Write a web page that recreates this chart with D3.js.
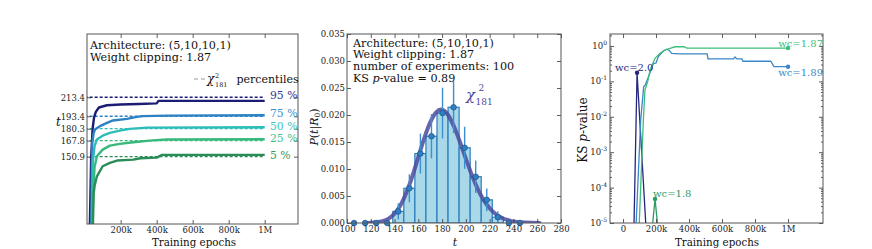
<!DOCTYPE html>
<html>
<head>
<meta charset="utf-8">
<script src="https://cdn.jsdelivr.net/npm/d3@7"></script>
<style>
  body { margin: 0; background: #fff; }
  svg { display: block; font-family: "DejaVu Serif", serif; }
</style>
</head>
<body>
<div id="chart"></div>
<script>
// ---- left panel: percentiles of t vs training epochs ----
const pctLabels = ['95 %', '75 %', '50 %', '25 %', '5 %'];
const pctValues = [213.4, 193.4, 180.3, 167.8, 150.9];
const leftTicksX = [200000, 400000, 600000, 800000, 1000000];

const ep95 = [22e3, 29e3, 36e3, 44e3, 52e3, 62e3, 79e3, 124e3, 200e3, 300e3, 400e3, 410e3, 1e6];
const t95  = [40, 80, 150, 180, 192, 198, 202.6, 205, 205.8, 206.3, 207, 209.6, 209.6];
const ep75 = [30e3, 37e3, 42e3, 50e3, 60e3, 85e3, 124e3, 157e3, 235e3, 290e3, 324e3, 457e3, 1e6];
const t75  = [60, 80, 165, 176, 180, 183, 186.4, 189, 190.7, 192.8, 193.6, 194.1, 194.4];
const ep50 = [32e3, 40e3, 45e3, 55e3, 68e3, 100e3, 140e3, 195e3, 250e3, 345e3, 1e6];
const t50  = [60, 80, 145, 162, 169, 173, 176, 178.3, 180.1, 181.5, 181.8];
const ep25 = [35e3, 43e3, 48e3, 55e3, 68e3, 100e3, 140e3, 195e3, 270e3, 360e3, 455e3, 1e6];
const t25  = [60, 80, 116, 140, 151.3, 158.3, 162.5, 164.3, 166, 167.8, 168.9, 169.2];
const ep05 = [38e3, 46e3, 50e3, 55e3, 68e3, 100e3, 140e3, 180e3, 270e3, 310e3, 400e3, 430e3, 1e6];
const t05  = [60, 80, 112, 120, 130.2, 140.8, 144.3, 146.8, 147.8, 149.2, 149.9, 152.8, 152.8];

// ---- middle panel: histogram of t ----
const binEdges = [101.3, 110.6, 119.9, 129.2, 138.5, 147.8, 157.1, 166.4, 175.7, 185.0,
                  194.3, 203.6, 212.9, 222.2, 231.5, 240.8, 250.1];
const density  = [0, 0, 0, 0, 0.00214, 0.00643, 0.01286, 0.01607, 0.02036, 0.02143,
                  0.01393, 0.00857, 0.00429, 0.00107, 0, 0];
const densErr  = [0, 0, 0, 0, 0.0015, 0.0026, 0.0037, 0.0041, 0.0047, 0.0048,
                  0.0039, 0.0030, 0.0021, 0.0011, 0, 0];
const chiT   = [118, 125, 130, 135, 140, 145, 150, 155, 160, 165, 170, 175, 179, 185, 190,
                195, 200, 205, 210, 215, 220, 225, 230, 235, 240, 250, 262];
const chiPdf = [0.00002, 0.00012, 0.00034, 0.00082, 0.00174, 0.0033, 0.00563, 0.00868, 0.01222,
                0.01573, 0.01865, 0.0205, 0.0210, 0.0200, 0.01786, 0.0150, 0.01187, 0.00887,
                0.00629, 0.00424, 0.00273, 0.00167, 0.00098, 0.00055, 0.0003, 0.00008, 0.00001];
const midTicksX = [100, 120, 140, 160, 180, 200, 220, 240, 260, 280];
const midTicksY = [0, 0.005, 0.010, 0.015, 0.020, 0.025, 0.030, 0.035];

// ---- right panel: KS p-value vs training epochs ----
const ks187Ep = [90e3, 123e3, 133e3, 150e3, 164e3, 194e3, 224e3, 255e3, 285e3, 315e3, 370e3, 386e3, 1e6];
const ks187P  = [1e-6, 8e-3, 0.057, 0.1, 0.21, 0.45, 0.62, 0.77, 0.86, 0.95, 0.95, 0.87, 0.87];
const ks189Ep = [70e3, 107e3, 125e3, 135e3, 150e3, 184e3, 200e3, 214e3, 244e3, 265e3, 280e3, 295e3,
                 345e3, 510e3, 515e3, 670e3, 679e3, 690e3, 720e3, 727e3, 895e3, 915e3, 1e6];
const ks189P  = [1e-6, 8e-3, 0.07, 0.08, 0.12, 0.32, 0.33, 0.5, 0.72, 0.81, 0.75, 0.62,
                 0.6, 0.6, 0.43, 0.43, 0.49, 0.43, 0.43, 0.37, 0.37, 0.26, 0.26];
const ks20Ep  = [60e3, 85e3, 150e3];
const ks20P   = [2.8e-7, 0.176, 1e-6];
const ks18Ep  = [175e3, 194e3, 213e3];
const ks18P   = [6e-6, 4.8e-5, 6e-6];
const rightTicksX = [0, 200000, 400000, 600000, 800000, 1000000];
const rightTicksY = [1e-5, 1e-4, 1e-3, 1e-2, 1e-1, 1];

const pctColors = ['#1c1c74', '#2d82c4', '#2cbdb9', '#37b97c', '#2b8c57'];
const pctTextColors = ['#35358c', '#3f92cf', '#3cc6bf', '#45c28a', '#35985f'];

const W = 872, H = 249;
const svg = d3.select('#chart').append('svg').attr('width', W).attr('height', H);
svg.append('rect').attr('width', W).attr('height', H).attr('fill', '#fff');

const fmtK = d => d === 0 ? '0' : (d >= 1e6 ? (d / 1e6) + 'M' : (d / 1000) + 'k');

function frame(g, b, x, y, xt, yt, xfmt, yfmt, yMinor) {
  g.append('g').attr('transform', `translate(0,${b.y1})`)
    .call(d3.axisBottom(x).tickValues(xt).tickSize(-4).tickPadding(3).tickFormat(xfmt))
    .call(s => s.select('.domain').remove());
  g.append('g').attr('transform', `translate(0,${b.y0})`)
    .call(d3.axisTop(x).tickValues(xt).tickSize(-4).tickFormat(''))
    .call(s => s.select('.domain').remove());
  g.append('g').attr('transform', `translate(${b.x0},0)`)
    .call(d3.axisLeft(y).tickValues(yt).tickSize(-4).tickPadding(2).tickFormat(yfmt))
    .call(s => s.select('.domain').remove());
  g.append('g').attr('transform', `translate(${b.x1},0)`)
    .call(d3.axisRight(y).tickValues(yt).tickSize(-4).tickFormat(''))
    .call(s => s.select('.domain').remove());
  if (yMinor) {
    g.append('g').attr('transform', `translate(${b.x0},0)`)
      .call(d3.axisLeft(y).tickValues(yMinor).tickSize(-2).tickFormat(''))
      .call(s => s.select('.domain').remove());
    g.append('g').attr('transform', `translate(${b.x1},0)`)
      .call(d3.axisRight(y).tickValues(yMinor).tickSize(-2).tickFormat(''))
      .call(s => s.select('.domain').remove());
  }
  g.selectAll('.tick line').attr('stroke', '#333').attr('stroke-width', 0.8);
  g.selectAll('.tick text').attr('font-family', '"DejaVu Serif", serif')
    .attr('font-size', 8.5).attr('fill', '#222');
  g.append('rect').attr('x', b.x0).attr('y', b.y0)
    .attr('width', b.x1 - b.x0).attr('height', b.y1 - b.y0)
    .attr('fill', 'none').attr('stroke', '#555').attr('stroke-width', 1);
}

function clip(id, b) {
  svg.append('clipPath').attr('id', id).append('rect')
    .attr('x', b.x0).attr('y', b.y0).attr('width', b.x1 - b.x0).attr('height', b.y1 - b.y0);
}

function txt(g, x, y, s, size, color, anchor) {
  return g.append('text').attr('x', x).attr('y', y).text(s)
    .attr('font-size', size).attr('fill', color || '#111')
    .attr('text-anchor', anchor || 'start');
}

// ================= LEFT =================
const bL = { x0: 87, x1: 298, y0: 34, y1: 224 };
clip('clipL', bL);
const gL = svg.append('g');
const xL = d3.scaleLinear().domain([13000, 1185000]).range([bL.x0, bL.x1]);
const yL = d3.scaleLinear().domain([80, 280]).range([bL.y1, bL.y0]);

const plotL = gL.append('g').attr('clip-path', 'url(#clipL)');
pctValues.forEach((v, i) => {
  plotL.append('line')
    .attr('x1', xL(0)).attr('x2', xL(1000000))
    .attr('y1', yL(v)).attr('y2', yL(v))
    .attr('stroke', pctColors[i]).attr('stroke-width', 1.3)
    .attr('stroke-dasharray', '3,2');
});
const seriesL = [[ep95, t95], [ep75, t75], [ep50, t50], [ep25, t25], [ep05, t05]];
const lineL = d3.line().x(d => xL(d[0])).y(d => yL(d[1]));
seriesL.forEach((s, i) => {
  plotL.append('path').datum(d3.zip(s[0], s[1]))
    .attr('fill', 'none').attr('stroke', pctColors[i]).attr('stroke-width', 2.4)
    .attr('stroke-linejoin', 'round').attr('d', lineL);
});
frame(gL, bL, xL, yL, leftTicksX, pctValues, fmtK, d => d.toFixed(1));
pctLabels.forEach((l, i) => {
  const yy = [99, 116.5, 130, 141.5, 158.5][i];
  txt(gL, 270, yy, l, 10.8, pctTextColors[i]);
});
txt(gL, 90, 49, 'Architecture: (5,10,10,1)', 11.2);
txt(gL, 90, 60.5, 'Weight clipping: 1.87', 11.2);
gL.append('line').attr('x1', 194).attr('x2', 206).attr('y1', 79).attr('y2', 79)
  .attr('stroke', '#999').attr('stroke-width', 1.2).attr('stroke-dasharray', '4,3');
txt(gL, 207, 83, 'χ', 12).attr('font-style', 'italic');
txt(gL, 215, 78, '2', 6.5);
txt(gL, 215, 86.5, '181', 6.5);
txt(gL, 236.5, 83, 'percentiles', 11);
txt(gL, 56, 126, 't', 12).attr('font-style', 'italic');
txt(gL, 194, 245.5, 'Training epochs', 10.3, '#111', 'middle');

// ================= MIDDLE =================
const bM = { x0: 347, x1: 561, y0: 34, y1: 223 };
clip('clipM', bM);
const gM = svg.append('g');
const xM = d3.scaleLinear().domain([100, 280]).range([bM.x0, bM.x1]);
const yM = d3.scaleLinear().domain([0, 0.035]).range([bM.y1, bM.y0]);
const plotM = gM.append('g').attr('clip-path', 'url(#clipM)');
const bins = density.map((d, i) => ({ x0: binEdges[i], x1: binEdges[i + 1], d, e: densErr[i] }));

plotM.selectAll('.bar').data(bins.filter(b => b.d > 0)).enter().append('rect')
  .attr('x', b => xM(b.x0)).attr('width', b => xM(b.x1) - xM(b.x0))
  .attr('y', b => yM(b.d)).attr('height', b => yM(0) - yM(b.d))
  .attr('fill', '#a9d9e9').attr('stroke', '#2a7dbd').attr('stroke-width', 1.2);

plotM.append('path').datum(d3.zip(chiT, chiPdf))
  .attr('fill', 'none').attr('stroke', '#4a4a9e').attr('stroke-opacity', 0.85)
  .attr('stroke-width', 4).attr('stroke-linecap', 'round')
  .attr('d', d3.line().x(d => xM(d[0])).y(d => yM(d[1])).curve(d3.curveMonotoneX));

plotM.selectAll('.err').data(bins.filter(b => b.e > 0)).enter().append('line')
  .attr('x1', b => xM((b.x0 + b.x1) / 2)).attr('x2', b => xM((b.x0 + b.x1) / 2))
  .attr('y1', b => yM(b.d - b.e)).attr('y2', b => yM(b.d + b.e))
  .attr('stroke', '#3b8fce').attr('stroke-width', 1.4);

gM.selectAll('.pt').data(bins).enter().append('circle')
  .attr('cx', b => xM((b.x0 + b.x1) / 2)).attr('cy', b => yM(b.d)).attr('r', 2.8)
  .attr('fill', '#2f80c2').attr('stroke', '#1d4f85').attr('stroke-width', 0.7);

frame(gM, bM, xM, yM, midTicksX, midTicksY, d3.format('d'), d3.format('.3f'));
['Architecture: (5,10,10,1)', 'Weight clipping: 1.87', 'number of experiments: 100']
  .forEach((s, i) => txt(gM, 353, 46.5 + i * 11.8, s, 11.2));
const ks = txt(gM, 353, 82, 'KS ', 11.2);
ks.append('tspan').attr('font-style', 'italic').text('p');
ks.append('tspan').text('-value = 0.89');
txt(gM, 466, 100, 'χ', 15, '#4a4a9e').attr('font-style', 'italic');
txt(gM, 478.5, 91, '2', 9, '#4a4a9e');
txt(gM, 475.5, 105, '181', 9, '#4a4a9e');
const pl = gM.append('text').attr('transform', 'translate(318,127) rotate(-90)')
  .attr('text-anchor', 'middle').attr('font-size', 11).attr('fill', '#111');
pl.append('tspan').attr('font-style', 'italic').text('P');
pl.append('tspan').text('(');
pl.append('tspan').attr('font-style', 'italic').text('t');
pl.append('tspan').text('|');
pl.append('tspan').attr('font-style', 'italic').text('R');
pl.append('tspan').attr('font-size', 7.5).attr('dy', 2).text('0');
pl.append('tspan').attr('dy', -2).text(')');
txt(gM, 455, 245.5, 't', 11, '#111', 'middle').attr('font-style', 'italic');

// ================= RIGHT =================
const bR = { x0: 610, x1: 823, y0: 34, y1: 223 };
clip('clipR', bR);
const gR = svg.append('g');
const xR = d3.scaleLinear().domain([-79000, 1212000]).range([bR.x0, bR.x1]);
const yR = d3.scaleLog().domain([1e-5, 2.18]).range([bR.y1, bR.y0]);
const plotR = gR.append('g').attr('clip-path', 'url(#clipR)');
const lineR = d3.line().x(d => xR(d[0])).y(d => yR(d[1]));
const seriesR = [
  { ep: ks20Ep, p: ks20P, c: '#26267c', dot: 1 },
  { ep: ks189Ep, p: ks189P, c: '#3a87c9', dot: ks189Ep.length - 1 },
  { ep: ks187Ep, p: ks187P, c: '#3dbd7a', dot: ks187Ep.length - 1 },
  { ep: ks18Ep, p: ks18P, c: '#2f9a62', dot: 1 }
];
seriesR.forEach(s => {
  plotR.append('path').datum(d3.zip(s.ep, s.p))
    .attr('fill', 'none').attr('stroke', s.c).attr('stroke-width', 1.3).attr('d', lineR);
  plotR.append('circle').attr('cx', xR(s.ep[s.dot])).attr('cy', yR(s.p[s.dot]))
    .attr('r', 2.2).attr('fill', s.c);
});
const minorR = [];
rightTicksY.slice(0, -1).forEach(t => { for (let k = 2; k < 10; k++) minorR.push(t * k); });
minorR.push(2);
frame(gR, bR, xR, yR, rightTicksX, rightTicksY, fmtK, () => '', minorR);
gR.selectAll('.logl').data(rightTicksY).enter().append('text')
  .attr('x', bR.x0 - 3).attr('y', d => yR(d) + 3)
  .attr('text-anchor', 'end').attr('font-size', 8.5).attr('fill', '#222')
  .text('10')
  .append('tspan').attr('font-size', 6).attr('dy', -4)
  .text(d => String(Math.round(Math.log10(d))));
txt(gR, 823, 47, 'wc=1.87', 10, '#3dbd7a', 'end');
txt(gR, 823, 75.5, 'wc=1.89', 10, '#3a87c9', 'end');
txt(gR, 615, 70.5, 'wc=2.0', 10, '#26267c');
txt(gR, 653, 197, 'wc=1.8', 10, '#2f9a62');
const kl = gR.append('text').attr('transform', 'translate(587,130) rotate(-90)')
  .attr('text-anchor', 'middle').attr('font-size', 12).attr('fill', '#111');
kl.append('tspan').text('KS ');
kl.append('tspan').attr('font-style', 'italic').text('p');
kl.append('tspan').text('-value');
txt(gR, 717, 245.5, 'Training epochs', 10.3, '#111', 'middle');
</script>
</body>
</html>
